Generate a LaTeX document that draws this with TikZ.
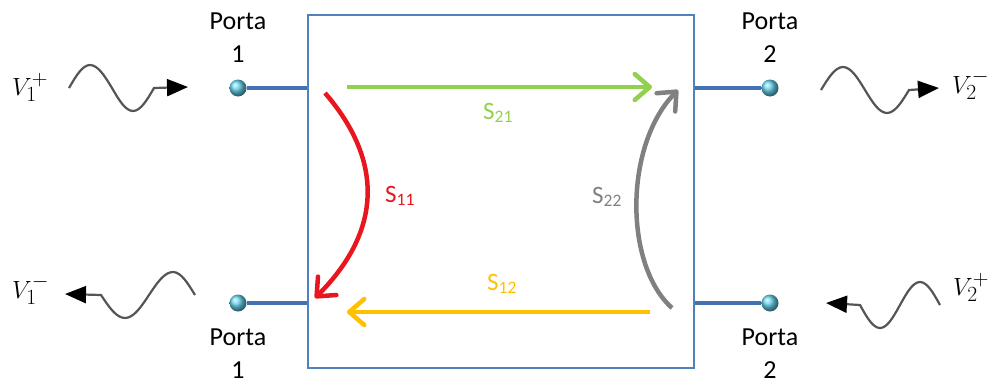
\documentclass[tikz,border=0pt]{standalone}
\usepackage{fontspec}
\usepackage{graphicx}
\setmainfont{Carlito}
\usetikzlibrary{arrows.meta}
\newcommand{\vlab}[2]{$V_{\scalebox{1.25}{$\scriptstyle #1$}}^{\scalebox{1.25}{$\scriptstyle #2$}}$}
\definecolor{boxblue}{RGB}{79,129,189}
\definecolor{portblue}{RGB}{66,114,178}
\definecolor{dotcyan}{RGB}{100,210,235}
\definecolor{sgreen}{RGB}{146,208,80}
\definecolor{sred}{RGB}{232,22,30}
\definecolor{sgray}{RGB}{128,128,128}
\definecolor{syellow}{RGB}{255,192,0}
\definecolor{wavegray}{RGB}{85,85,85}
\tikzset{
  netbox/.style={draw=boxblue, line width=2pt, minimum width=386pt, minimum height=353pt, inner sep=0pt},
  portdot/.style={circle, minimum size=17pt, inner sep=0pt, shading=ball, ball color=dotcyan},
  portline/.style={draw=portblue, line width=4pt},
  portlabel/.style={align=center, font=\fontsize{26}{33}\selectfont, inner sep=0pt},
  vlabel/.style={font=\fontsize{25}{30}\selectfont, inner sep=0pt},
  slabel/.style={font=\fontsize{25}{30}\selectfont, inner sep=0pt},
  sarrow/.style={line width=4.5pt, -{Straight Barb[length=15pt,width=26pt,round]}},
  wave/.style={draw=wavegray, line width=2.2pt, -{Triangle[length=21pt,width=17pt,color=black]}}
}
\begin{document}
\begin{tikzpicture}[x=1pt,y=-1pt]
\useasboundingbox (0,0) rectangle (991,383);
% box
\node[netbox] (box) at (501,191.5) {};
% port dots
\node[portdot] (p1a) at (238,88) {};
\node[portdot] (p1b) at (238,303) {};
\node[portdot] (p2a) at (770,88) {};
\node[portdot] (p2b) at (770,303) {};
% port lines
\draw[portline] (p1a.east) -- (p1a.east -| box.west);
\draw[portline] (p1b.east) -- (p1b.east -| box.west);
\draw[portline] (p2a.west) -- (p2a.west -| box.east);
\draw[portline] (p2b.west) -- (p2b.west -| box.east);
% port labels (base anchor = baseline of the last line)
\node[portlabel, anchor=base] (l1a) at (238,62) {Porta\\1};
\node[portlabel, anchor=base] (l1b) at (238,378) {Porta\\1};
\node[portlabel, anchor=base] (l2a) at (770,62) {Porta\\2};
\node[portlabel, anchor=base] (l2b) at (770,378) {Porta\\2};
% V labels
\node[vlabel, anchor=base west] (v1p) at (12,95) {\vlab{1}{+}};
\node[vlabel, anchor=base west] (v1m) at (12,298) {\vlab{1}{-}};
\node[vlabel, anchor=base west] (v2m) at (952,93) {\vlab{2}{-}};
\node[vlabel, anchor=base west] (v2p) at (953,295) {\vlab{2}{+}};
% waves
\draw[wave] (69,88) sin (90,65) cos (112,88) sin (133,111) cos (154,88) -- (188,87);
\draw[wave] (195,295) sin (173,272) cos (149,295) sin (125,318) cos (101,295) -- (65,294);
\draw[wave] (821,90) sin (843,67) cos (865,90) sin (887,113) cos (909,90) -- (939,88);
\draw[wave] (940,305) sin (920,282) cos (900,305) sin (880,328) cos (860,305) -- (826,303);
% S-parameter arrows
\coordinate (g1) at (347,87);
\coordinate (g2) at (652,87);
\coordinate (y1) at (650,312);
\coordinate (y2) at (347,312);
\coordinate (r1) at (325,93);
\coordinate (r2) at (315,298);
\coordinate (k1) at (672,308);
\coordinate (k2) at (678,90);
\draw[sarrow, sgreen] (g1) -- (g2);
\draw[sarrow, syellow] (y1) -- (y2);
\draw[sarrow, sred] (r1) .. controls (383,160) and (383,230) .. (r2);
\draw[sarrow, sgray] (k1) .. controls (624,265) and (624,145) .. (k2);
% S labels
\node[slabel, text=sgreen, anchor=base west] (s21) at (483,119) {S\textsubscript{21}};
\node[slabel, text=sred, anchor=base west] (s11) at (385,202) {S\textsubscript{11}};
\node[slabel, text=sgray, anchor=base west] (s22) at (592,203) {S\textsubscript{22}};
\node[slabel, text=syellow, anchor=base west] (s12) at (487,290) {S\textsubscript{12}};
\end{tikzpicture}
\end{document}
